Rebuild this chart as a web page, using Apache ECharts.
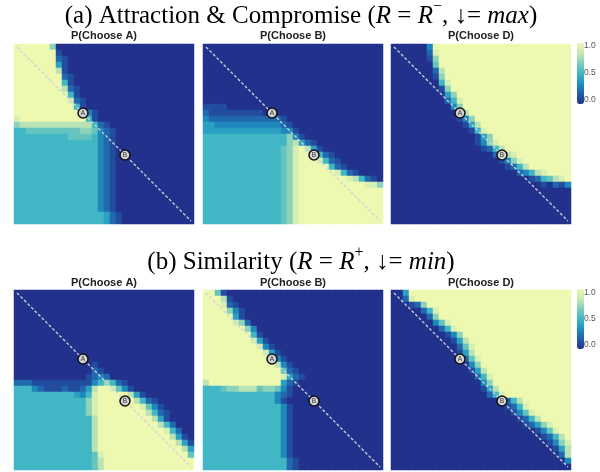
<!DOCTYPE html>
<html>
<head>
<meta charset="utf-8">
<script src="https://cdn.jsdelivr.net/npm/echarts@6/dist/echarts.min.js"></script>
<style>
html, body { margin: 0; padding: 0; background: #fff; }
#show { width: 600px; height: 472px; }
</style>
</head>
<body>
<div id="show"></div>
<script>
var myChart = echarts.init(document.getElementById('show'));

// cell values, one char per cell, rows top to bottom,
// '0'..'9' = 0.0..0.9, 'a' = 1.0 (spaces only split the 30 columns in tens)
var attrChooseA = [
    "aaaaaa7000 0000000000 0000000000",
    "aaaaaaa100 0000000000 0000000000",
    "aaaaaaa210 0000000000 0000000000",
    "aaaaaaa410 0000000000 0000000000",
    "aaaaaaa810 0000000000 0000000000",
    "aaaaaaaa21 0000000000 0000000000",
    "aaaaaaaa51 0000000000 0000000000",
    "aaaaaaaa82 1000000000 0000000000",
    "aaaaaaaaa5 1000000000 0000000000",
    "aaaaaaaaa9 2100000000 0000000000",
    "aaaaaaaaaa 5100000000 0000000000",
    "aaaaaaaaaa aa31000000 0000000000",
    "9aaaaaaaaa aa51000000 0000000000",
    "7888888888 8885210000 0000000000",
    "5566666666 6776321000 0000000000",
    "5555555556 6665321000 0000000000",
    "5555555555 5555321000 0000000000",
    "5555555555 5555321000 0000000000",
    "5555555555 5555321000 0000000000",
    "5555555555 5555321000 0000000000",
    "5555555555 5555321000 0000000000",
    "5555555555 5555321000 0000000000",
    "5555555555 5555321000 0000000000",
    "5555555555 5555321000 0000000000",
    "5555555555 5555321000 0000000000",
    "5555555555 5555321000 0000000000",
    "5555555555 5555321000 0000000000",
    "5555555555 5555321000 0000000000",
    "5555555555 5555542100 0000000000",
    "5555555555 5555542100 0000000000"
];

var attrChooseB = [
    "0000000000 0000000000 0000000000",
    "0000000000 0000000000 0000000000",
    "0000000000 0000000000 0000000000",
    "0000000000 0000000000 0000000000",
    "0000000000 0000000000 0000000000",
    "0000000000 0000000000 0000000000",
    "0000000000 0000000000 0000000000",
    "0000000000 0000000000 0000000000",
    "0000000000 0000000000 0000000000",
    "0000000000 0000000000 0000000000",
    "1111000000 0000000000 0000000000",
    "2111111111 0000000000 0000000000",
    "3222222222 2221000000 0000000000",
    "4433333333 3332100000 0000000000",
    "4444444444 4443310000 0000000000",
    "5555555555 5555731000 0000000000",
    "5555555555 5555784210 0000000000",
    "5555555555 555679a841 0000000000",
    "5555555555 555679aaa5 2100000000",
    "5555555555 555679aaa9 5210000000",
    "5555555555 555679aaaa a521000000",
    "5555555555 555679aaaa aa95210000",
    "5555555555 555679aaaa aaaa985210",
    "5555555555 555679aaaa aaaaaaa997",
    "5555555555 555679aaaa aaaaaaaaaa",
    "5555555555 555679aaaa aaaaaaaaaa",
    "5555555555 555679aaaa aaaaaaaaaa",
    "5555555555 555679aaaa aaaaaaaaaa",
    "5555555555 555679aaaa aaaaaaaaaa",
    "5555555555 555679aaaa aaaaaaaaaa"
];

var attrChooseD = [
    "0000003aaa aaaaaaaaaa aaaaaaaaaa",
    "00000029aa aaaaaaaaaa aaaaaaaaaa",
    "00000017aa aaaaaaaaaa aaaaaaaaaa",
    "00000006aa aaaaaaaaaa aaaaaaaaaa",
    "000000028a aaaaaaaaaa aaaaaaaaaa",
    "000000017a aaaaaaaaaa aaaaaaaaaa",
    "0000000059 aaaaaaaaaa aaaaaaaaaa",
    "0000000017 aaaaaaaaaa aaaaaaaaaa",
    "0000000004 7aaaaaaaaa aaaaaaaaaa",
    "0000000002 59aaaaaaaa aaaaaaaaaa",
    "0000000000 37aaaaaaaa aaaaaaaaaa",
    "0000000000 028aaaaaaa aaaaaaaaaa",
    "0000000000 0137aaaaaa aaaaaaaaaa",
    "0000000000 00148aaaaa aaaaaaaaaa",
    "0000000000 000159aaaa aaaaaaaaaa",
    "0000000000 0000147aaa aaaaaaaaaa",
    "0000000000 00001379aa aaaaaaaaaa",
    "0000000000 000001258a aaaaaaaaaa",
    "0000000000 0000000238 9aaaaaaaaa",
    "0000000000 0000000013 79aaaaaaaa",
    "0000000000 0000000001 258aaaaaaa",
    "0000000000 0000000000 023589aaaa",
    "0000000000 0000000000 000125689a",
    "0000000000 0000000000 0000010213",
    "0000000000 0000000000 0000000000",
    "0000000000 0000000000 0000000000",
    "0000000000 0000000000 0000000000",
    "0000000000 0000000000 0000000000",
    "0000000000 0000000000 0000000000",
    "0000000000 0000000000 0000000000"
];

var simChooseA = [
    "0000000000 0000000000 0000000000",
    "0000000000 0000000000 0000000000",
    "0000000000 0000000000 0000000000",
    "0000000000 0000000000 0000000000",
    "0000000000 0000000000 0000000000",
    "0000000000 0000000000 0000000000",
    "0000000000 0000000000 0000000000",
    "0000000000 0000000000 0000000000",
    "0000000000 0000000000 0000000000",
    "0000000000 0000000000 0000000000",
    "0000000000 0000000000 0000000000",
    "0000000000 0000000000 0000000000",
    "0000000000 0001000000 0000000000",
    "0000000000 0002100000 0000000000",
    "0000000000 0012320000 0000000000",
    "2221111111 1113575210 0000000000",
    "5553211121 1248aa9631 0000000000",
    "5555555555 4359aaaaa8 4100000000",
    "5555555555 5579aaaaaa 8521000000",
    "5555555555 5579aaaaaa a963100000",
    "5555555555 5579aaaaaa aa85210000",
    "5555555555 5558aaaaaa aaa8410000",
    "5555555555 5558aaaaaa aaaa852000",
    "5555555555 5558aaaaaa aaaaa95200",
    "5555555555 5558aaaaaa aaaaaa8410",
    "5555555555 5558aaaaaa aaaaaaa841",
    "5555555555 5558aaaaaa aaaaaaaa84",
    "5555555555 55569aaaaa aaaaaaaaa6",
    "5555555555 55568aaaaa aaaaaaaaaa",
    "5555555555 55568aaaaa aaaaaaaaaa"
];

var simChooseB = [
    "aa61000000 0000000000 0000000000",
    "aaa8100000 0000000000 0000000000",
    "aaa9210000 0000000000 0000000000",
    "aaaa731000 0000000000 0000000000",
    "aaaaa41000 0000000000 0000000000",
    "aaaaa97200 0000000000 0000000000",
    "aaaaaaa730 0000000000 0000000000",
    "aaaaaaaa51 0000000000 0000000000",
    "aaaaaaaa94 1000000000 0000000000",
    "aaaaaaaaa9 3100000000 0000000000",
    "aaaaaaaaaa 9410000000 0000000000",
    "aaaaaaaaaa aa31000000 0000000000",
    "aaaaaaaaaa aa83100000 0000000000",
    "aaaaaaaaaa aaa6210000 0000000000",
    "aaaaaaaaaa aaa9421000 0000000000",
    "8aaaaaaaaa aaa4210000 0000000000",
    "5556778886 7763100000 0000000000",
    "5555555555 5532100000 0000000000",
    "5555555555 5531000000 0000000000",
    "5555555555 5553100000 0000000000",
    "5555555555 5553100000 0000000000",
    "5555555555 5553100000 0000000000",
    "5555555555 5553100000 0000000000",
    "5555555555 5553100000 0000000000",
    "5555555555 5553100000 0000000000",
    "5555555555 5553100000 0000000000",
    "5555555555 5553100000 0000000000",
    "5555555555 5553100000 0000000000",
    "5555555555 5555210000 0000000000",
    "5555555555 5555210000 0000000000"
];

var simChooseD = [
    "004aaaaaaa aaaaaaaaaa aaaaaaaaaa",
    "0029aaaaaa aaaaaaaaaa aaaaaaaaaa",
    "000127aaaa aaaaaaaaaa aaaaaaaaaa",
    "00000259aa aaaaaaaaaa aaaaaaaaaa",
    "00000027aa aaaaaaaaaa aaaaaaaaaa",
    "0000000369 aaaaaaaaaa aaaaaaaaaa",
    "0000000025 9aaaaaaaaa aaaaaaaaaa",
    "0000000001 37aaaaaaaa aaaaaaaaaa",
    "0000000000 148aaaaaaa aaaaaaaaaa",
    "0000000000 0269aaaaaa aaaaaaaaaa",
    "0000000000 0148aaaaaa aaaaaaaaaa",
    "0000000000 00269aaaaa aaaaaaaaaa",
    "0000000000 00037aaaaa aaaaaaaaaa",
    "0000000000 000148aaaa aaaaaaaaaa",
    "0000000000 0000259aaa aaaaaaaaaa",
    "0000000000 0000037aaa aaaaaaaaaa",
    "0000000000 00000148aa aaaaaaaaaa",
    "0000000000 000000259a aaaaaaaaaa",
    "0000000000 0000000012 58aaaaaaaa",
    "0000000000 0000000001 259aaaaaaa",
    "0000000000 0000000000 1369aaaaaa",
    "0000000000 0000000000 01258aaaaa",
    "0000000000 0000000000 0012479aaa",
    "0000000000 0000000000 00001369aa",
    "0000000000 0000000000 000001258a",
    "0000000000 0000000000 0000001379",
    "0000000000 0000000000 0000000148",
    "0000000000 0000000000 0000000028",
    "0000000000 0000000000 0000000003",
    "0000000000 0000000000 0000000000"
];

var cellLabels = ['0', '1', '2', '3', '4', '5', '6', '7', '8', '9',
    '10', '11', '12', '13', '14', '15', '16', '17', '18', '19',
    '20', '21', '22', '23', '24', '25', '26', '27', '28', '29'];
var diagonal = [[0, 0], [29, 29]];
var markers = [[11, 11, 'A'], [18, 18, 'B']];
var panelTitles = ['P(Choose A)', 'P(Choose B)', 'P(Choose D)'];
var barTicks = ['1.0', '0.5', '0.0'];

var colorRamp = ['#21318c', '#225ea8', '#1d91c0', '#41b6c4', '#7fcdbb', '#c7e9b4', '#edf8b1'];

// 6px cells so neighbouring rects meet on whole pixels (no seams)
var panels = [
    { rows: attrChooseA, left: 14, top: 44, width: 180, height: 180 },
    { rows: attrChooseB, left: 203, top: 44, width: 180, height: 180 },
    { rows: attrChooseD, left: 391, top: 44, width: 180, height: 180 },
    { rows: simChooseA, left: 14, top: 290, width: 180, height: 180 },
    { rows: simChooseB, left: 203, top: 290, width: 180, height: 180 },
    { rows: simChooseD, left: 391, top: 290, width: 180, height: 180 }
];

function toCells(rows) {
    var out = [];
    rows.forEach(function (row, r) {
        row.replace(/ /g, '').split('').forEach(function (ch, c) {
            out.push([c, r, ch === 'a' ? 1 : Number(ch) / 10]);
        });
    });
    return out;
}

var grids = [], xAxes = [], yAxes = [], heat = [], overlay = [];
panels.forEach(function (p, i) {
    grids.push({ left: p.left, top: p.top, width: p.width, height: p.height });
    xAxes.push({ type: 'category', gridIndex: i, data: cellLabels, show: false });
    yAxes.push({ type: 'category', gridIndex: i, data: cellLabels, show: false, inverse: true });
    heat.push({
        type: 'heatmap',
        xAxisIndex: i,
        yAxisIndex: i,
        data: toCells(p.rows),
        silent: true,
        progressive: 0,
        itemStyle: { borderWidth: 0 }
    });
    overlay.push({
        type: 'line',
        xAxisIndex: i,
        yAxisIndex: i,
        data: diagonal,
        symbol: 'none',
        silent: true,
        z: 3,
        lineStyle: { color: '#cfd3dc', width: 1.3, type: [3, 2] }
    });
    overlay.push({
        type: 'scatter',
        xAxisIndex: i,
        yAxisIndex: i,
        data: markers,
        symbolSize: 10,
        silent: true,
        z: 4,
        itemStyle: { color: '#d3d3d3', borderColor: '#111', borderWidth: 1.5, opacity: 1 },
        label: {
            show: true,
            position: 'inside',
            formatter: function (d) { return d.value[2]; },
            fontSize: 6.5,
            color: '#333',
            fontFamily: 'Liberation Sans'
        }
    });
});

function bigTitle(txt, y) {
    return {
        type: 'text',
        x: 301,
        y: y,
        style: {
            text: txt,
            align: 'center', verticalAlign: 'middle',
            textAlign: 'center', textVerticalAlign: 'middle',
            fill: '#000',
            rich: {
                n: { fontFamily: 'Liberation Serif', fontSize: 25, lineHeight: 34, fill: '#000' },
                i: { fontFamily: 'Liberation Serif', fontSize: 25, lineHeight: 34, fontStyle: 'italic', fill: '#000' },
                s: { fontFamily: 'Liberation Serif', fontSize: 16, lineHeight: 17, verticalAlign: 'top', fill: '#000' }
            }
        }
    };
}

var texts = [
    bigTitle('{n|(a) Attraction & Compromise (}{i|R}{n| = }{i|R}{s|\u2212}{n|, \u2193= }{i|max}{n|)}', 16),
    bigTitle('{n|(b) Similarity (}{i|R}{n| = }{i|R}{s|+}{n|, \u2193= }{i|min}{n|)}', 262)
];
[36, 283].forEach(function (ty) {
    panelTitles.forEach(function (t, k) {
        var p = panels[k];
        texts.push({
            type: 'text',
            x: p.left + p.width / 2,
            y: ty,
            style: {
                text: t,
                font: 'bold 11px "Liberation Sans", Arial, sans-serif',
                fill: '#222',
                align: 'center', verticalAlign: 'middle',
                textAlign: 'center', textVerticalAlign: 'middle'
            }
        });
    });
});
[[46, 73, 100], [293, 319, 345]].forEach(function (ys) {
    barTicks.forEach(function (t, k) {
        texts.push({
            type: 'text',
            x: 584,
            y: ys[k],
            style: {
                text: t,
                font: '8.5px "Liberation Sans", Arial, sans-serif',
                fill: '#555',
                align: 'left', verticalAlign: 'middle',
                textAlign: 'left', textVerticalAlign: 'middle'
            }
        });
    });
});

myChart.setOption({
    animation: false,
    grid: grids,
    xAxis: xAxes,
    yAxis: yAxes,
    visualMap: [
        {
            type: 'continuous', min: 0, max: 1,
            seriesIndex: [0, 1, 2],
            left: 577, top: 43, itemWidth: 7, itemHeight: 61,
            padding: 0, calculable: false, hoverLink: false,
            inRange: { color: colorRamp }
        },
        {
            type: 'continuous', min: 0, max: 1,
            seriesIndex: [3, 4, 5],
            left: 577, top: 289, itemWidth: 7, itemHeight: 60,
            padding: 0, calculable: false, hoverLink: false,
            inRange: { color: colorRamp }
        }
    ],
    series: heat.concat(overlay),
    graphic: texts
});
</script>
</body>
</html>
